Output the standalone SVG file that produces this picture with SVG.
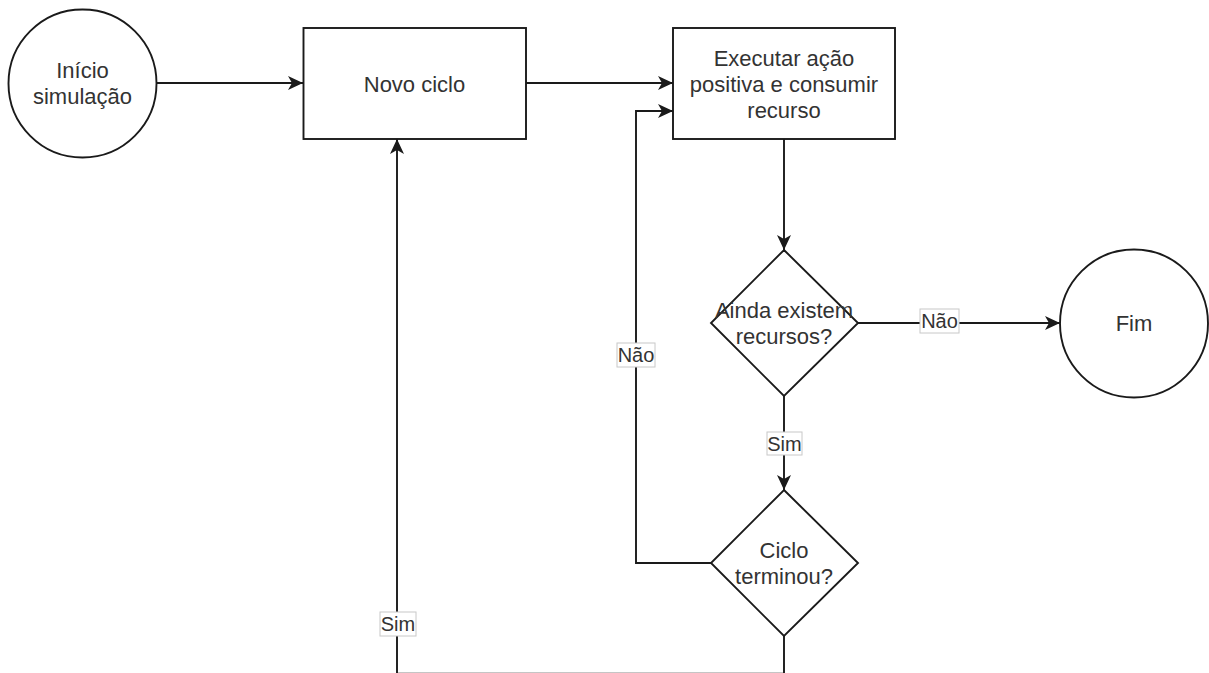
<svg xmlns="http://www.w3.org/2000/svg" width="1209" height="673" viewBox="0 0 1209 673">
  <defs>
    <style>
      .shape { fill: #ffffff; stroke: #1a1a1a; stroke-width: 1.9; }
      .edge { fill: none; stroke: #1a1a1a; stroke-width: 1.9; }
      .txt { font-family: "Liberation Sans", Arial, Helvetica, sans-serif; font-size: 22px; fill: #333333; text-anchor: middle; }
      .lbl-box { fill: #ffffff; stroke: #c8c8c8; stroke-width: 1; }
      .lbl { font-family: "Liberation Sans", Arial, Helvetica, sans-serif; font-size: 20px; fill: #333333; text-anchor: middle; }
    </style>
    <marker id="arrow" viewBox="0 0 15 14" refX="15" refY="7" markerWidth="15" markerHeight="14" markerUnits="userSpaceOnUse" orient="auto">
      <path d="M0,0 L15,7 L0,14 L4,7 Z" fill="#1a1a1a"/>
    </marker>
  </defs>
  <rect width="1209" height="673" fill="#ffffff"/>

  <!-- connectors -->
  <g id="connectors">
    <path class="edge" d="M157,83 L303,83" marker-end="url(#arrow)"/>
    <path class="edge" d="M526,83 L673,83" marker-end="url(#arrow)"/>
    <path class="edge" d="M784,139 L784,250" marker-end="url(#arrow)"/>
    <path class="edge" d="M858,323 L1060,323" marker-end="url(#arrow)"/>
    <path class="edge" d="M784,396 L784,490" marker-end="url(#arrow)"/>
    <path class="edge" d="M711,563 L636,563 L636,111 L673,111" marker-end="url(#arrow)"/>
    <!-- return path runs along the bottom edge, just below the frame -->
    <path class="edge" d="M784,636 L784,673.8 L397,673.8 L397,139" marker-end="url(#arrow)"/>

    <g id="label-nao-fim">
      <rect class="lbl-box" x="920" y="309" width="39" height="24"/>
      <text class="lbl" x="939.5" y="328">Não</text>
    </g>
    <g id="label-nao-loop">
      <rect class="lbl-box" x="617" y="343" width="38" height="24"/>
      <text class="lbl" x="636" y="362">Não</text>
    </g>
    <g id="label-sim-ciclo">
      <rect class="lbl-box" x="767" y="432" width="35" height="23"/>
      <text class="lbl" x="784.5" y="450.5">Sim</text>
    </g>
    <g id="label-sim-novo">
      <rect class="lbl-box" x="380" y="612" width="36" height="24"/>
      <text class="lbl" x="398" y="631">Sim</text>
    </g>
  </g>

  <!-- nodes -->
  <g id="inicio">
    <circle class="shape" cx="82.5" cy="83.5" r="74"/>
    <text class="txt" x="82.5" y="78">Início</text>
    <text class="txt" x="82.5" y="104">simulação</text>
  </g>

  <g id="novo-ciclo">
    <rect class="shape" x="303.5" y="28" width="222.5" height="111"/>
    <text class="txt" x="414.5" y="91.5">Novo ciclo</text>
  </g>

  <g id="executar">
    <rect class="shape" x="673" y="28" width="222" height="111"/>
    <text class="txt" x="784" y="65.5">Executar ação</text>
    <text class="txt" x="784" y="91.5">positiva e consumir</text>
    <text class="txt" x="784" y="117.5">recurso</text>
  </g>

  <g id="ainda-existem">
    <polygon class="shape" points="784,250 858,323 784,396 711,323"/>
    <text class="txt" x="784" y="318">Ainda existem</text>
    <text class="txt" x="784" y="344">recursos?</text>
  </g>

  <g id="fim">
    <circle class="shape" cx="1134" cy="323.5" r="74"/>
    <text class="txt" x="1134" y="331">Fim</text>
  </g>

  <g id="ciclo-terminou">
    <polygon class="shape" points="784,490 858,563 784,636 711,563"/>
    <text class="txt" x="784" y="558">Ciclo</text>
    <text class="txt" x="784" y="584">terminou?</text>
  </g>
</svg>
